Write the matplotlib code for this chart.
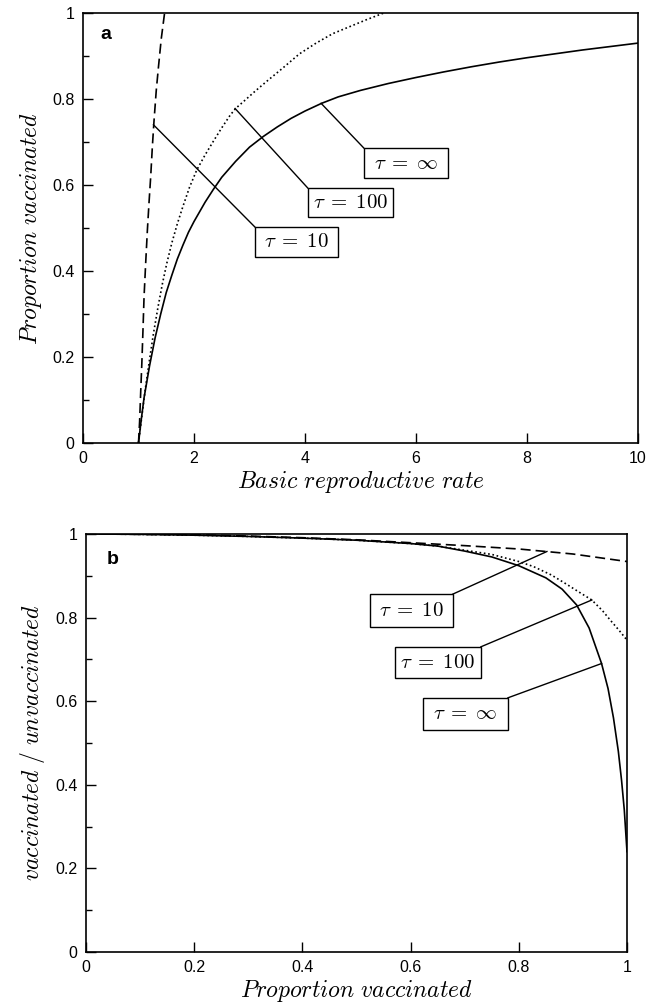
import matplotlib
matplotlib.use("Agg")
import matplotlib.pyplot as plt
from matplotlib.patches import Rectangle
from matplotlib.ticker import MultipleLocator

plt.rcParams['mathtext.fontset'] = 'cm'
plt.rcParams['font.family'] = ['Liberation Sans', 'DejaVu Sans']

# ---------------- Panel a data ----------------
a_inf_x = [1.0, 1.05, 1.1, 1.2, 1.3, 1.4, 1.5, 1.6, 1.7, 1.8, 1.9, 2.0, 2.2, 2.35, 2.5, 2.75,
           3.0, 3.25, 3.5, 3.75, 4.0, 4.3, 4.6, 5.0, 5.5, 6.0, 6.5, 7.0, 7.5, 8.0, 8.5, 9.0, 9.5, 10.0]
a_inf_y = [0.0, 0.055, 0.105, 0.18, 0.245, 0.30, 0.35, 0.39, 0.428, 0.46, 0.49, 0.515, 0.56, 0.59, 0.618, 0.655,
           0.688, 0.713, 0.735, 0.755, 0.772, 0.79, 0.805, 0.82, 0.836, 0.85, 0.863, 0.875, 0.886, 0.896, 0.905, 0.914, 0.922, 0.930]

a_100_x = [1.0, 1.06, 1.12, 1.2, 1.27, 1.35, 1.43, 1.51, 1.6, 1.7, 1.8, 1.92, 2.05, 2.2, 2.35, 2.5, 2.65,
           2.75, 2.9, 3.1, 3.3, 3.6, 3.9, 4.2, 4.5, 4.8, 5.1, 5.42]
a_100_y = [0.0, 0.062, 0.123, 0.195, 0.255, 0.315, 0.37, 0.418, 0.465, 0.51, 0.55, 0.595, 0.635, 0.67, 0.702, 0.733, 0.762,
           0.778, 0.795, 0.818, 0.84, 0.872, 0.905, 0.93, 0.952, 0.968, 0.984, 1.0]

a_10_x = [1.0, 1.02, 1.04, 1.06, 1.08, 1.10, 1.13, 1.16, 1.19, 1.22, 1.25, 1.28, 1.32, 1.36, 1.41, 1.47]
a_10_y = [0.0, 0.05, 0.12, 0.185, 0.26, 0.34, 0.42, 0.495, 0.56, 0.62, 0.69, 0.75, 0.82, 0.875, 0.94, 1.0]

# ---------------- Panel b data ----------------
b_inf_x = [0.0, 0.1, 0.2, 0.3, 0.4, 0.5, 0.6, 0.65, 0.7, 0.75, 0.8, 0.85, 0.88, 0.907, 0.93, 0.953,
           0.965, 0.975, 0.984, 0.99, 0.995, 1.0]
b_inf_y = [1.0, 0.999, 0.997, 0.994, 0.99, 0.985, 0.977, 0.971, 0.959, 0.945, 0.924, 0.895, 0.868, 0.83, 0.775, 0.69,
           0.63, 0.56, 0.48, 0.41, 0.34, 0.24]

b_100_x = [0.0, 0.1, 0.2, 0.3, 0.4, 0.5, 0.6, 0.65, 0.7, 0.75, 0.8, 0.827, 0.86, 0.888, 0.91, 0.935,
           0.955, 0.969, 0.985, 1.0]
b_100_y = [1.0, 0.999, 0.997, 0.994, 0.99, 0.985, 0.977, 0.971, 0.961, 0.951, 0.934, 0.922, 0.902, 0.88, 0.862, 0.842,
           0.816, 0.794, 0.77, 0.746]

b_10_x = [0.0, 0.1, 0.2, 0.3, 0.4, 0.5, 0.6, 0.7, 0.8, 0.85, 0.9, 0.95, 1.0]
b_10_y = [1.0, 0.999, 0.998, 0.995, 0.991, 0.986, 0.979, 0.972, 0.964, 0.958, 0.952, 0.943, 0.934]

labels = [r'$\tau\;=\;10$', r'$\tau\;=\;100$', r'$\tau\;=\;\infty$']

# label boxes: (x0, y0, w, h) in data coords, leader corner, curve anchor
a_boxes = [(3.10, 0.433, 1.49, 0.069), (4.05, 0.526, 1.54, 0.067), (5.06, 0.616, 1.52, 0.070)]
a_corner = [(3.10, 0.502), (4.05, 0.593), (5.06, 0.686)]
a_anchor = [(1.27, 0.74), (2.74, 0.778), (4.29, 0.79)]

b_boxes = [(0.525, 0.778, 0.153, 0.078), (0.571, 0.656, 0.159, 0.074), (0.623, 0.531, 0.157, 0.077)]
b_corner = [(0.678, 0.856), (0.730, 0.730), (0.780, 0.608)]
b_anchor = [(0.852, 0.958), (0.935, 0.842), (0.953, 0.690)]

fig = plt.figure(figsize=(6.5, 10.08), dpi=100)
ax1 = fig.add_axes([0.1277, 0.5605, 0.8538, 0.4266])
ax2 = fig.add_axes([0.1323, 0.0556, 0.8323, 0.4147])

lw = 1.2
dash = (0, (6, 3))
dot = (0, (1, 1.6))

def style(ax):
    for s in ax.spines.values():
        s.set_linewidth(1.2)
    ax.tick_params(direction='in', which='both', top=False, right=False, labelsize=11.5, width=1.0)
    ax.tick_params(which='major', length=7, pad=6)
    ax.tick_params(which='minor', length=4.5)

def boxes(ax, bx, corner, anchor):
    for (x0, y0, w, h), c, an, lab in zip(bx, corner, anchor, labels):
        ax.add_patch(Rectangle((x0, y0), w, h, fill=True, facecolor='white', edgecolor='black', lw=1.0, zorder=4))
        ax.text(x0 + w / 2, y0 + h / 2, lab, ha='center', va='center', fontsize=15, zorder=5)
        ax.plot([c[0], an[0]], [c[1], an[1]], color='black', lw=1.0, zorder=3)

# Panel a
ax1.plot(a_inf_x, a_inf_y, color='black', lw=lw)
ax1.plot(a_100_x, a_100_y, color='black', lw=lw, linestyle=dot)
ax1.plot(a_10_x, a_10_y, color='black', lw=lw, linestyle=dash)
ax1.set_xlim(0, 10)
ax1.set_ylim(0, 1)
ax1.set_xticks([0, 2, 4, 6, 8, 10])
ax1.set_xticklabels(['0', '2', '4', '6', '8', '10'])
ax1.set_yticks([0, 0.2, 0.4, 0.6, 0.8, 1])
ax1.set_yticklabels(['0', '0.2', '0.4', '0.6', '0.8', '1'])
ax1.yaxis.set_minor_locator(MultipleLocator(0.1))
style(ax1)
boxes(ax1, a_boxes, a_corner, a_anchor)
ax1.set_xlabel(r'$Basic\ reproductive\ rate$', fontsize=17, labelpad=2)
ax1.set_ylabel(r'$Proportion\ vaccinated$', fontsize=17, labelpad=6)
ax1.text(0.032, 0.949, 'a', transform=ax1.transAxes, fontsize=14, fontweight='bold', ha='left', va='center')

# Panel b
ax2.plot(b_inf_x, b_inf_y, color='black', lw=lw)
ax2.plot(b_100_x, b_100_y, color='black', lw=lw, linestyle=dot)
ax2.plot(b_10_x, b_10_y, color='black', lw=lw, linestyle=dash)
ax2.set_xlim(0, 1)
ax2.set_ylim(0, 1)
ax2.set_xticks([0, 0.2, 0.4, 0.6, 0.8, 1])
ax2.set_xticklabels(['0', '0.2', '0.4', '0.6', '0.8', '1'])
ax2.set_yticks([0, 0.2, 0.4, 0.6, 0.8, 1])
ax2.set_yticklabels(['0', '0.2', '0.4', '0.6', '0.8', '1'])
ax2.yaxis.set_minor_locator(MultipleLocator(0.1))
style(ax2)
boxes(ax2, b_boxes, b_corner, b_anchor)
ax2.set_xlabel(r'$Proportion\ vaccinated$', fontsize=17, labelpad=2)
ax2.set_ylabel(r'$vaccinated\ /\ unvaccinated$', fontsize=17, labelpad=6)
ax2.text(0.039, 0.94, 'b', transform=ax2.transAxes, fontsize=14, fontweight='bold', ha='left', va='center')

fig.savefig('out.png', dpi=100)
